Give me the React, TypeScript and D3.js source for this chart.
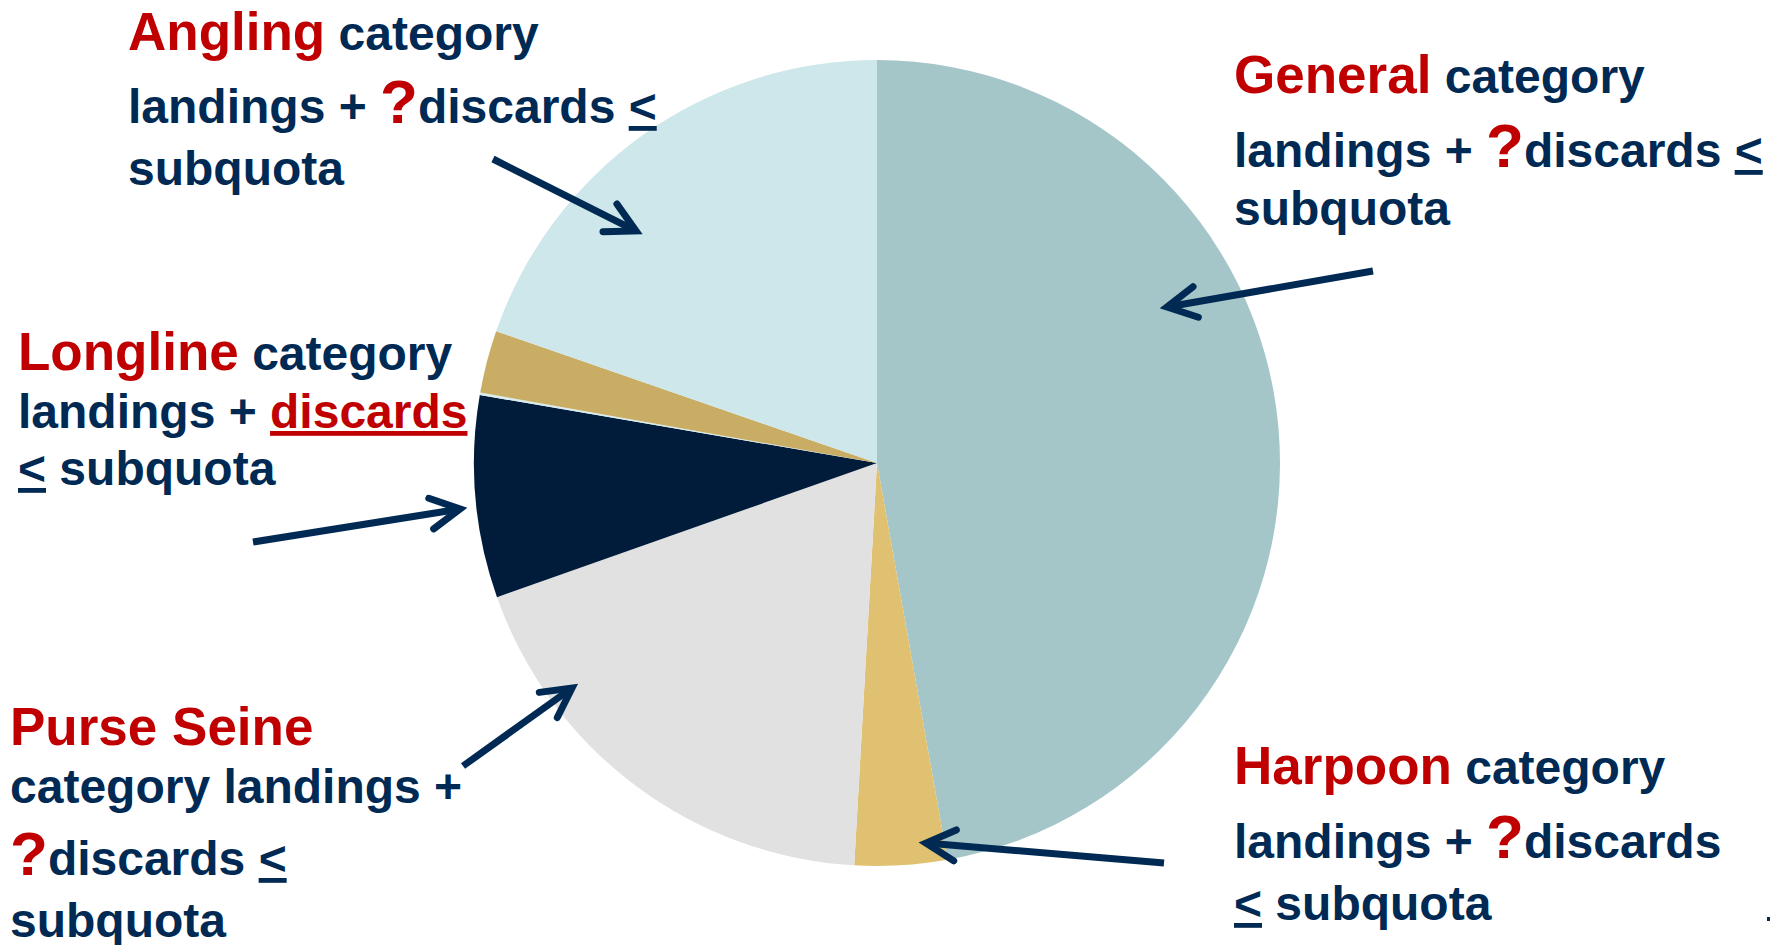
import * as d3 from 'd3';

// Quota shares, clockwise from 12 o'clock
const CATEGORIES = ['General', 'Harpoon', 'Purse Seine', 'Longline', 'Trap', 'Reserve', 'Angling'];
const SHARES = [47.2, 3.7, 18.7, 8.1, 0.1, 2.5, 19.7];
const COLORS = ['#a5c6c9', '#e0c172', '#e1e1e1', '#001c3a', '#d9ecee', '#c9ad64', '#cee7ea'];

const WIDTH = 1781;
const HEIGHT = 945;
const CX = 877;
const CY = 463;
const RADIUS = 403;

const NAVY = '#002a54';
const RED = '#c00000';
const FONT = "'Liberation Sans', Arial, Helvetica, sans-serif";
const BODY_SIZE = 48;
const TITLE_SIZE = 53;
const QMARK_SIZE = 62;

type Seg = { t: string; red?: boolean; big?: boolean; title?: boolean; ul?: boolean };
type Label = { x: number; baselines: number[]; lines: Seg[][] };

// callout text blocks (slide annotations)
const LABELS: Label[] = [
  {
    x: 128, baselines: [50, 123, 185],
    lines: [
      [{ t: 'Angling', red: true, title: true }, { t: ' category' }],
      [{ t: 'landings + ' }, { t: '?', red: true, big: true }, { t: 'discards ' }, { t: '<', ul: true }],
      [{ t: 'subquota' }],
    ],
  },
  {
    x: 1234, baselines: [93, 167, 225],
    lines: [
      [{ t: 'General', red: true, title: true }, { t: ' category' }],
      [{ t: 'landings + ' }, { t: '?', red: true, big: true }, { t: 'discards ' }, { t: '<', ul: true }],
      [{ t: 'subquota' }],
    ],
  },
  {
    x: 18, baselines: [370, 428, 485],
    lines: [
      [{ t: 'Longline', red: true, title: true }, { t: ' category' }],
      [{ t: 'landings + ' }, { t: 'discards', red: true, ul: true }],
      [{ t: '<', ul: true }, { t: ' subquota' }],
    ],
  },
  {
    x: 10, baselines: [745, 803, 875, 937],
    lines: [
      [{ t: 'Purse Seine', red: true, title: true }],
      [{ t: 'category landings +' }],
      [{ t: '?', red: true, big: true }, { t: 'discards ' }, { t: '<', ul: true }],
      [{ t: 'subquota' }],
    ],
  },
  {
    x: 1234, baselines: [784, 858, 920],
    lines: [
      [{ t: 'Harpoon', red: true, title: true }, { t: ' category' }],
      [{ t: 'landings + ' }, { t: '?', red: true, big: true }, { t: 'discards' }],
      [{ t: '<', ul: true }, { t: ' subquota' }],
    ],
  },
];

// arrows: tail -> tip
const ARROWS = [
  { x1: 493, y1: 159, x2: 636, y2: 231 },
  { x1: 1373, y1: 271, x2: 1167, y2: 307 },
  { x1: 253, y1: 542, x2: 460, y2: 509 },
  { x1: 463, y1: 766, x2: 572, y2: 688 },
  { x1: 1164, y1: 863, x2: 926, y2: 843 },
];

function Arrow({ x1, y1, x2, y2 }: { x1: number; y1: number; x2: number; y2: number }) {
  const ang = Math.atan2(y1 - y2, x1 - x2);
  const len = 33;
  const spread = (28 * Math.PI) / 180;
  const a = [x2 + len * Math.cos(ang - spread), y2 + len * Math.sin(ang - spread)];
  const b = [x2 + len * Math.cos(ang + spread), y2 + len * Math.sin(ang + spread)];
  return (
    <g stroke={NAVY} strokeWidth={7} fill="none">
      <line x1={x1} y1={y1} x2={x2 + 3 * Math.cos(ang)} y2={y2 + 3 * Math.sin(ang)} />
      <path
        d={`M${a[0]},${a[1]}L${x2},${y2}L${b[0]},${b[1]}`}
        strokeLinecap="round"
        strokeLinejoin="miter"
      />
    </g>
  );
}

export default function App() {
  const pie = d3
    .pie<number>()
    .sort(null)
    .value((d) => d)
    .startAngle(0)
    .endAngle(2 * Math.PI);
  const arcs = pie(SHARES);
  const arc = d3.arc<d3.PieArcDatum<number>>().innerRadius(0).outerRadius(RADIUS);

  return (
    <>
      <style>{'body{margin:0;}'}</style>
      <svg width={WIDTH} height={HEIGHT} style={{ display: 'block', background: '#fff' }}>
        <g transform={`translate(${CX},${CY})`}>
          {arcs.map((a, i) => (
            <path key={CATEGORIES[i]} d={arc(a) ?? ''} fill={COLORS[i]} />
          ))}
        </g>

        {ARROWS.map((a, i) => (
          <Arrow key={i} {...a} />
        ))}

        {LABELS.map((lab, li) => (
          <g key={li} transform={`translate(${lab.x},0)`}>
            {lab.lines.map((line, k) => (
              <text
                key={k}
                x={0}
                y={lab.baselines[k]}
                fontFamily={FONT}
                fontWeight="bold"
                fontSize={BODY_SIZE}
                fill={NAVY}
                style={{ whiteSpace: 'pre' }}
              >
                {line.map((s, j) => (
                  <tspan
                    key={j}
                    fill={s.red ? RED : NAVY}
                    fontSize={s.big ? QMARK_SIZE : s.title ? TITLE_SIZE : BODY_SIZE}
                    style={s.ul ? { textDecoration: 'underline' } : undefined}
                  >
                    {s.t}
                  </tspan>
                ))}
              </text>
            ))}
          </g>
        ))}

        {/* stray slide mark, bottom right */}
        <rect x={1767} y={917} width={3} height={4} fill={NAVY} />
      </svg>
    </>
  );
}
